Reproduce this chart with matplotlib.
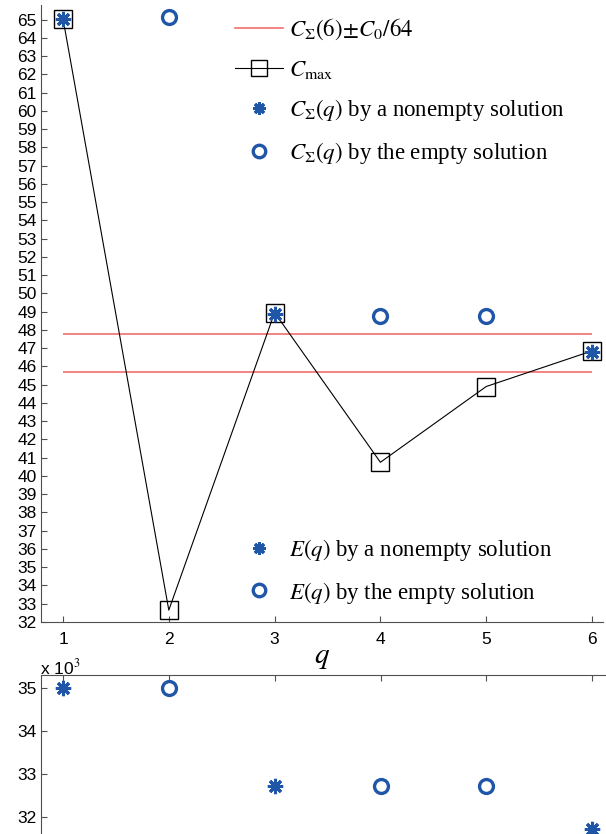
import matplotlib
matplotlib.use('Agg')
import matplotlib.pyplot as plt
from matplotlib.lines import Line2D

plt.rcParams['mathtext.fontset'] = 'stix'
plt.rcParams['font.family'] = 'Liberation Sans'

# data
q = [1, 2, 3, 4, 5, 6]
c_max = [65.05, 32.65, 48.95, 40.75, 44.9, 46.85]
q_nonempty = [1, 3, 6]
c_sum_nonempty = [65.05, 48.9, 46.8]
q_empty = [2, 4, 5]
c_sum_empty = [65.15, 48.75, 48.75]
c_sum6 = 46.75
c0 = 66.0
e_nonempty = [35.0, 32.72, 31.72]   # x 10^3
e_empty = [35.0, 32.72, 32.72]      # x 10^3

blue = '#2056a8'
red = '#f06060'
spine = '#505050'
star = (8, 2, 0)

W, H = 606, 834
fig = plt.figure(figsize=(W / 100, H / 100), dpi=100)

ax = fig.add_axes([41 / W, 1 - 622 / H, (603 - 41) / W, (622 - 5) / H])
ax.hlines([c_sum6 - c0 / 64, c_sum6 + c0 / 64], 1, 6, color=red, lw=1.1, zorder=2)
ax.plot(q, c_max, color='black', lw=0.8, marker='s', ms=13, mfc='none',
        mec='black', mew=1.0, zorder=3)
ax.plot(q_nonempty, c_sum_nonempty, ls='none', marker=star, ms=11, mec=blue,
        mew=2.2, zorder=4)
ax.plot(q_empty, c_sum_empty, ls='none', marker='o', ms=10, mfc='none', mec=blue,
        mew=2.4, zorder=4)

ax.set_xlim(0.792, 6.104)
ax.set_ylim(32, 65.8)
ax.set_xticks(q)
ax.set_yticks(range(32, 66))
for s in ['top', 'right']:
    ax.spines[s].set_visible(False)
for s in ['left', 'bottom']:
    ax.spines[s].set_color(spine)
ax.tick_params(direction='in', length=4, color=spine, labelsize=12.5, pad=3)
ax.tick_params(axis='x', pad=7)
ax.set_xlabel('$q$', fontsize=21, labelpad=-3)

serif = {'family': 'Liberation Serif', 'size': 16.5}
h1 = [
    Line2D([], [], color=red, lw=1.1),
    Line2D([], [], color='black', lw=0.8, marker='s', ms=11, mfc='none', mec='black'),
    Line2D([], [], ls='none', marker=star, ms=9, mec=blue, mew=2.2),
    Line2D([], [], ls='none', marker='o', ms=9, mfc='none', mec=blue, mew=2.4),
]
l1 = [r'$C_{\Sigma}(6)\!\pm\! C_0/64$', r'$C_{\mathrm{max}}$',
      r'$C_{\Sigma}(q)$ by a nonempty solution', r'$C_{\Sigma}(q)$ by the empty solution']
fig.legend(h1, l1, loc='upper left', bbox_to_anchor=(235 / W, 1 - 17 / H),
           frameon=False, prop=serif, handlelength=2.1, handletextpad=0.25,
           labelspacing=0.72, borderpad=0, borderaxespad=0)

h2 = [
    Line2D([], [], ls='none', marker=star, ms=9, mec=blue, mew=2.2),
    Line2D([], [], ls='none', marker='o', ms=9, mfc='none', mec=blue, mew=2.4),
]
l2 = [r'$E(q)$ by a nonempty solution', r'$E(q)$ by the empty solution']
fig.legend(h2, l2, loc='upper left', bbox_to_anchor=(235 / W, 1 - 537 / H),
           frameon=False, prop=serif, handlelength=2.1, handletextpad=0.25,
           labelspacing=0.72, borderpad=0, borderaxespad=0)

# lower panel
ax2 = fig.add_axes([41 / W, 0, (606 - 41) / W, (834 - 675) / H])
ax2.plot(q_nonempty, e_nonempty, ls='none', marker=star, ms=11, mec=blue, mew=2.2,
         clip_on=False)
ax2.plot(q_empty, e_empty, ls='none', marker='o', ms=10, mfc='none', mec=blue, mew=2.4)
ax2.set_xlim(0.792, 6.13)
ax2.set_ylim(31.6, 35.3)
ax2.set_xticks(q)
ax2.set_yticks([32, 33, 34, 35])
ax2.xaxis.tick_top()
ax2.tick_params(axis='x', labeltop=False, labelbottom=False)
for s in ['bottom', 'right']:
    ax2.spines[s].set_visible(False)
for s in ['left', 'top']:
    ax2.spines[s].set_color(spine)
ax2.tick_params(direction='in', length=4, color=spine, labelsize=12.5, pad=3)
fig.text(40 / W, 1 - 667 / H, r'x 10$^3$', fontsize=12.5, va='center', ha='left')

fig.savefig('out.png', dpi=100)
